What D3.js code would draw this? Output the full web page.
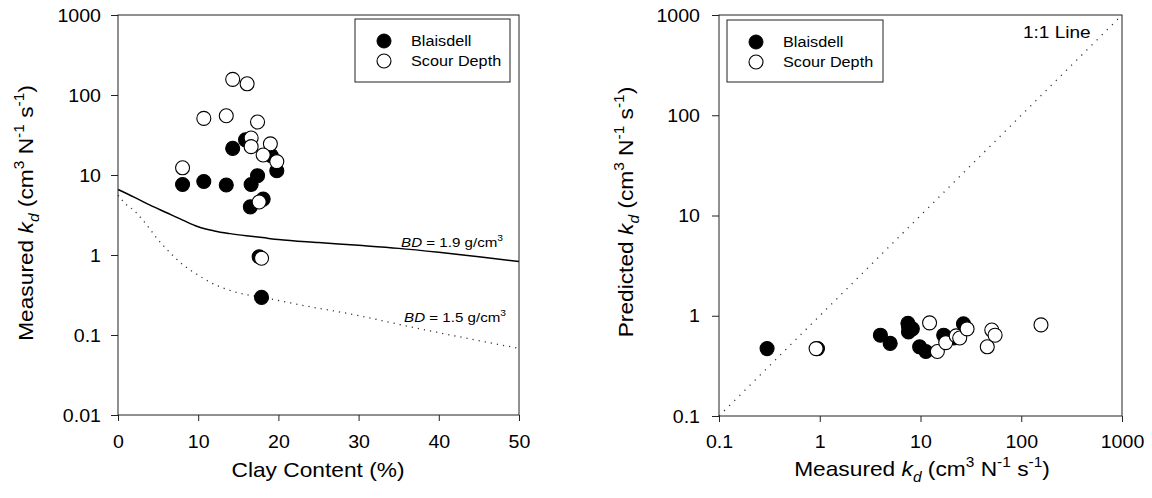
<!DOCTYPE html>
<html>
<head>
<meta charset="utf-8">
<script src="https://cdn.jsdelivr.net/npm/d3@7"></script>
<style>
  body { margin: 0; background: #fff; }
  svg { font-family: "Liberation Sans", Arial, sans-serif; }
</style>
</head>
<body>
<svg id="chart" width="1152" height="498"></svg>
<script>
// left panel: clay vs measured kd
var blaisdellClay = [14.3, 15.9, 19.1, 19.8, 8.05, 10.7, 13.5, 17.4, 16.6, 18.1, 16.5, 17.6, 17.9];
var blaisdellKd   = [21.5, 27.5, 17.5, 11.3, 7.6, 8.3, 7.5, 9.8, 7.6, 5.0, 4.0, 0.95, 0.295];
var scourClay = [14.3, 16.1, 10.7, 13.5, 17.4, 16.6, 16.6, 19.0, 18.1, 19.8, 8.05, 17.6, 17.9];
var scourKd   = [157, 138, 51, 55, 46, 29, 22.6, 24.5, 17.8, 14.7, 12.3, 4.6, 0.91];

// model curves
var clayGrid19 = [0, 2, 4, 6, 8, 10, 12, 14, 16, 18, 20, 25, 30, 35, 40, 45, 50];
var kdBD19     = [6.6, 5.3, 4.2, 3.4, 2.75, 2.25, 2.0, 1.85, 1.74, 1.65, 1.56, 1.43, 1.32, 1.21, 1.08, 0.95, 0.83];
var clayGrid15 = [0, 1, 2, 3, 4, 5, 6, 8, 10, 12, 14, 16, 18, 20, 23, 30, 35, 40, 45, 50];
var kdBD15     = [5.6, 4.3, 3.6, 2.8, 2.1, 1.55, 1.2, 0.77, 0.56, 0.43, 0.36, 0.32, 0.295, 0.27, 0.235, 0.175, 0.136, 0.107, 0.085, 0.068];

// right panel: measured vs predicted
var blaisdellMeas = [0.30, 0.95, 4.0, 5.0, 7.5, 7.6, 8.3, 7.6, 9.8, 11.3, 17.0, 21.5, 26.7];
var blaisdellPred = [0.47, 0.47, 0.64, 0.53, 0.84, 0.78, 0.74, 0.69, 0.49, 0.44, 0.64, 0.60, 0.83];
var scourMeas = [0.92, 12.3, 14.7, 17.8, 22.6, 24.5, 29, 46, 51, 55, 157];
var scourPred = [0.47, 0.85, 0.44, 0.54, 0.63, 0.60, 0.74, 0.49, 0.72, 0.64, 0.81];

var leftTicksY = [0.01, 0.1, 1, 10, 100, 1000];
var leftTicksX = [0, 10, 20, 30, 40, 50];
var rightTicks = [0.1, 1, 10, 100, 1000];

var S = 1.12; // text looks a bit wide in the original
var svg = d3.select("#chart");
var fmt = d3.format("~g");

function stext(g, x, y, size, anchor, rot) {
  return g.append("text")
    .attr("transform", "translate(" + x + "," + y + ")" + (rot ? " rotate(-90)" : "") + " scale(" + S + ",1)")
    .attr("font-size", size)
    .attr("text-anchor", anchor || "start")
    .attr("fill", "#000");
}
function rich(t, parts, size) {
  var cur = 0;
  parts.forEach(function(p) {
    var off = p.k == "sub" ? size * 0.3 : p.k == "sup" ? -size * 0.42 : 0;
    var ts = t.append("tspan").text(p.t).attr("dy", off - cur);
    if (p.k == "sub" || p.k == "sup") ts.attr("font-size", size * 0.68);
    if (p.i) ts.attr("font-style", "italic");
    cur = off;
  });
}
var kdUnits = [
  {t: "k", i: true}, {t: "d", k: "sub", i: true}, {t: " (cm"}, {t: "3", k: "sup"},
  {t: " N"}, {t: "-1", k: "sup"}, {t: " s"}, {t: "-1", k: "sup"}, {t: ")"}
];

function styleAxis(g, kind, off) {
  g.select(".domain").remove();
  g.selectAll(".tick line").attr("stroke", "#222");
  g.selectAll(".tick text").attr("font-size", 17.5).attr("fill", "#000")
    .attr("x", 0).attr("y", 0).attr("dy", kind == "left" ? "0.35em" : 0)
    .attr("transform", kind == "left" ? "translate(" + (-off) + ",0) scale(" + S + ",1)"
                                      : "translate(0," + off + ") scale(" + S + ",1)");
}
function frame(x0, x1, y0, y1) {
  svg.append("rect").attr("x", x0).attr("y", y0).attr("width", x1 - x0).attr("height", y1 - y0)
    .attr("fill", "none").attr("stroke", "#222").attr("stroke-width", 1);
}
function dots(g, xs, ys, xS, yS, fill) {
  g.selectAll(null).data(xs).enter().append("circle")
    .attr("cx", function(d) { return xS(d); })
    .attr("cy", function(d, i) { return yS(ys[i]); })
    .attr("r", 7).attr("fill", fill).attr("stroke", "#000").attr("stroke-width", 1.1);
}
function legend(x0, x1, y0, y1, mx, tx) {
  svg.append("rect").attr("x", x0).attr("y", y0).attr("width", x1 - x0).attr("height", y1 - y0)
    .attr("fill", "#fff").attr("stroke", "#222").attr("stroke-width", 1);
  svg.append("circle").attr("cx", mx).attr("cy", y0 + 22).attr("r", 7).attr("fill", "#000").attr("stroke", "#000");
  svg.append("circle").attr("cx", mx).attr("cy", y0 + 42).attr("r", 7).attr("fill", "#fff").attr("stroke", "#000").attr("stroke-width", 1.1);
  stext(svg, tx, y0 + 27, 14.5).text("Blaisdell");
  stext(svg, tx, y0 + 47, 14.5).text("Scour Depth");
}

// ---------- left panel ----------
var xL = d3.scaleLinear().domain([0, 50]).range([118, 519]);
var yL = d3.scaleLog().domain([0.01, 1000]).range([415, 15]);

var line = d3.line().curve(d3.curveMonotoneX);
svg.append("path")
  .attr("d", line(clayGrid19.map(function(c, i) { return [xL(c), yL(kdBD19[i])]; })))
  .attr("fill", "none").attr("stroke", "#000").attr("stroke-width", 1.5);
svg.append("path")
  .attr("d", line(clayGrid15.map(function(c, i) { return [xL(c), yL(kdBD15[i])]; })))
  .attr("fill", "none").attr("stroke", "#333").attr("stroke-width", 1.3).attr("stroke-dasharray", "1.2,5");

var gl = svg.append("g");
dots(gl, blaisdellClay, blaisdellKd, xL, yL, "#000");
dots(gl, scourClay, scourKd, xL, yL, "#fff");

frame(118, 519, 15, 415);
var axL = svg.append("g").attr("transform", "translate(118,0)")
  .call(d3.axisLeft(yL).tickValues(leftTicksY).tickFormat(fmt).tickSize(7));
styleAxis(axL, "left", 17);
var axB = svg.append("g").attr("transform", "translate(0,415)")
  .call(d3.axisBottom(xL).tickValues(leftTicksX).tickFormat(fmt).tickSize(6));
styleAxis(axB, "bottom", 33);

legend(355, 510, 19, 82, 384, 411);

rich(stext(svg, 503, 247, 13.5, "end"), [{t: "BD", i: true}, {t: " = 1.9 g/cm"}, {t: "3", k: "sup"}], 13.5);
rich(stext(svg, 506, 322, 13.5, "end"), [{t: "BD", i: true}, {t: " = 1.5 g/cm"}, {t: "3", k: "sup"}], 13.5);

stext(svg, 318, 477, 20.3, "middle").text("Clay Content (%)");
rich(stext(svg, 33, 213, 20.3, "middle", true), [{t: "Measured "}].concat(kdUnits), 20.3);

// ---------- right panel ----------
var xR = d3.scaleLog().domain([0.1, 1000]).range([719, 1122]);
var yR = d3.scaleLog().domain([0.1, 1000]).range([416, 15]);

svg.append("line")
  .attr("x1", xR(0.1)).attr("y1", yR(0.1)).attr("x2", xR(1000)).attr("y2", yR(1000))
  .attr("stroke", "#333").attr("stroke-width", 1.3).attr("stroke-dasharray", "1.2,6");

var gr = svg.append("g");
dots(gr, blaisdellMeas, blaisdellPred, xR, yR, "#000");
dots(gr, scourMeas, scourPred, xR, yR, "#fff");

frame(719, 1122, 15, 416);
var axL2 = svg.append("g").attr("transform", "translate(719,0)")
  .call(d3.axisLeft(yR).tickValues(rightTicks).tickFormat(fmt).tickSize(7));
styleAxis(axL2, "left", 19);
var axB2 = svg.append("g").attr("transform", "translate(0,416)")
  .call(d3.axisBottom(xR).tickValues(rightTicks).tickFormat(fmt).tickSize(6));
styleAxis(axB2, "bottom", 32);

legend(727, 883, 20, 82, 756, 783);
stext(svg, 1023, 38, 17).text("1:1 Line");

rich(stext(svg, 922, 476, 20.3, "middle"), [{t: "Measured "}].concat(kdUnits), 20.3);
rich(stext(svg, 633, 212, 20.3, "middle", true), [{t: "Predicted "}].concat(kdUnits), 20.3);
</script>
</body>
</html>
